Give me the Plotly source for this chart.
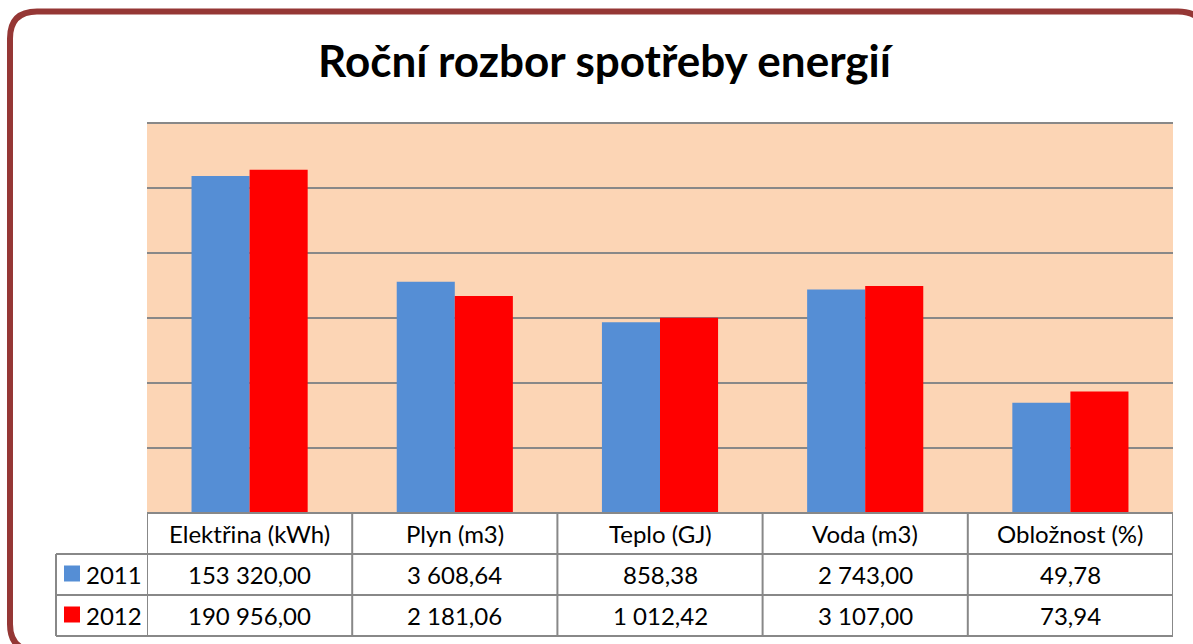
import plotly.graph_objects as go

# data
categories = ['Elektřina (kWh)', 'Plyn (m3)', 'Teplo (GJ)', 'Voda (m3)', 'Obložnost (%)']
years = ['2011', '2012']
values_2011 = [153320.00, 3608.64, 858.38, 2743.00, 49.78]
values_2012 = [190956.00, 2181.06, 1012.42, 3107.00, 73.94]
colors = {'2011': '#558ED5', '2012': '#FF0000'}

W, H = 1193, 644
L, R, T, B = 147, 1173, 123, 513   # plot area in pixels
FONT = 'Lato'


def px_x(p):
    return (p - L) / (R - L)


def px_y(p):
    return (B - p) / (B - T)


def cz(v):
    # czech number format: 153 320,00
    return f'{v:,.2f}'.replace(',', ' ').replace('.', ',')


fig = go.Figure()
for yr, vals in zip(years, [values_2011, values_2012]):
    fig.add_trace(go.Bar(x=categories, y=vals, name=yr, marker_color=colors[yr],
                         marker_line_width=0, showlegend=False))

shapes = []
annotations = []
grey = '#888888'
row_h = 41
rows_top = [B, B + row_h, B + 2 * row_h, B + 3 * row_h]
cell_font = dict(size=24, color='black', family=FONT)

# top gridline sits on the plot edge, plotly skips it
shapes.append(dict(type='line', xref='paper', yref='paper', x0=0, x1=1, y0=1, y1=1,
                   line=dict(color=grey, width=2)))
# horizontal table lines
shapes.append(dict(type='line', xref='paper', yref='paper', x0=0, x1=1,
                   y0=px_y(rows_top[0]), y1=px_y(rows_top[0]), line=dict(color=grey, width=2)))
for yp in rows_top[1:]:
    shapes.append(dict(type='line', xref='paper', yref='paper', x0=px_x(56), x1=1,
                       y0=px_y(yp), y1=px_y(yp), line=dict(color=grey, width=2)))
# vertical table lines at category borders
for i in range(len(categories) + 1):
    shapes.append(dict(type='line', xref='x', yref='paper', x0=i - 0.5, x1=i - 0.5,
                       y0=px_y(rows_top[0]), y1=px_y(rows_top[3]), line=dict(color=grey, width=2)))
shapes.append(dict(type='line', xref='paper', yref='paper', x0=px_x(56), x1=px_x(56),
                   y0=px_y(rows_top[1]), y1=px_y(rows_top[3]), line=dict(color=grey, width=2)))

# header texts
for c in categories:
    annotations.append(dict(x=c, xref='x', yref='paper', y=px_y(rows_top[0] + row_h / 2),
                            xanchor='center', yanchor='middle',
                            text=c, showarrow=False, font=cell_font))
# rows
for r, (yr, vals) in enumerate(zip(years, [values_2011, values_2012])):
    yc = rows_top[r + 1] + row_h / 2
    for c, v in zip(categories, vals):
        annotations.append(dict(x=c, xref='x', yref='paper', y=px_y(yc), text=cz(v),
                                xanchor='center', yanchor='middle',
                                showarrow=False, font=cell_font))
    shapes.append(dict(type='rect', xref='paper', yref='paper', x0=px_x(64), x1=px_x(80),
                       y0=px_y(yc - 8 - 1), y1=px_y(yc + 8 - 1), fillcolor=colors[yr],
                       line=dict(width=0)))
    annotations.append(dict(x=px_x(84), xref='paper', yref='paper', y=px_y(yc), text=yr,
                            xanchor='left', yanchor='middle', showarrow=False, font=cell_font))

# rounded outer border
x0, y0, x1, y1, rad = 10, 11.5, 1205, 651, 27


def P(x, y):
    return f'{px_x(x):.5f},{px_y(y):.5f}'


path = (f'M {P(x0 + rad, y0)} L {P(x1 - rad, y0)} Q {P(x1, y0)} {P(x1, y0 + rad)} '
        f'L {P(x1, y1 - rad)} Q {P(x1, y1)} {P(x1 - rad, y1)} '
        f'L {P(x0 + rad, y1)} Q {P(x0, y1)} {P(x0, y1 - rad)} '
        f'L {P(x0, y0 + rad)} Q {P(x0, y0)} {P(x0 + rad, y0)} Z')
shapes.append(dict(type='path', xref='paper', yref='paper', path=path,
                   line=dict(color='#953735', width=6)))

fig.update_layout(
    width=W, height=H,
    margin=dict(l=L, r=W - R, t=T, b=H - B),
    paper_bgcolor='white', plot_bgcolor='#FCD5B5',
    title=dict(text='<b>Roční rozbor spotřeby energií</b>', x=604.5 / W, xref='container',
               y=1 - 62 / H, yref='container', yanchor='middle', xanchor='center',
               font=dict(size=44, color='black', family=FONT)),
    barmode='group', bargap=0.434, bargroupgap=0,
    shapes=shapes, annotations=annotations,
)
fig.update_xaxes(showticklabels=False, showgrid=False, zeroline=False, showline=False,
                 range=[-0.5, len(categories) - 0.5])
fig.update_yaxes(type='log', range=[0, 6], dtick=1, showticklabels=False,
                 gridcolor=grey, gridwidth=2, zeroline=False, showline=False)

# page body has an 8px default margin; drop it so the figure sits at 0,0
fig.write_html('out.html', config={'displayModeBar': False},
               post_script="document.body.style.margin='0';")
